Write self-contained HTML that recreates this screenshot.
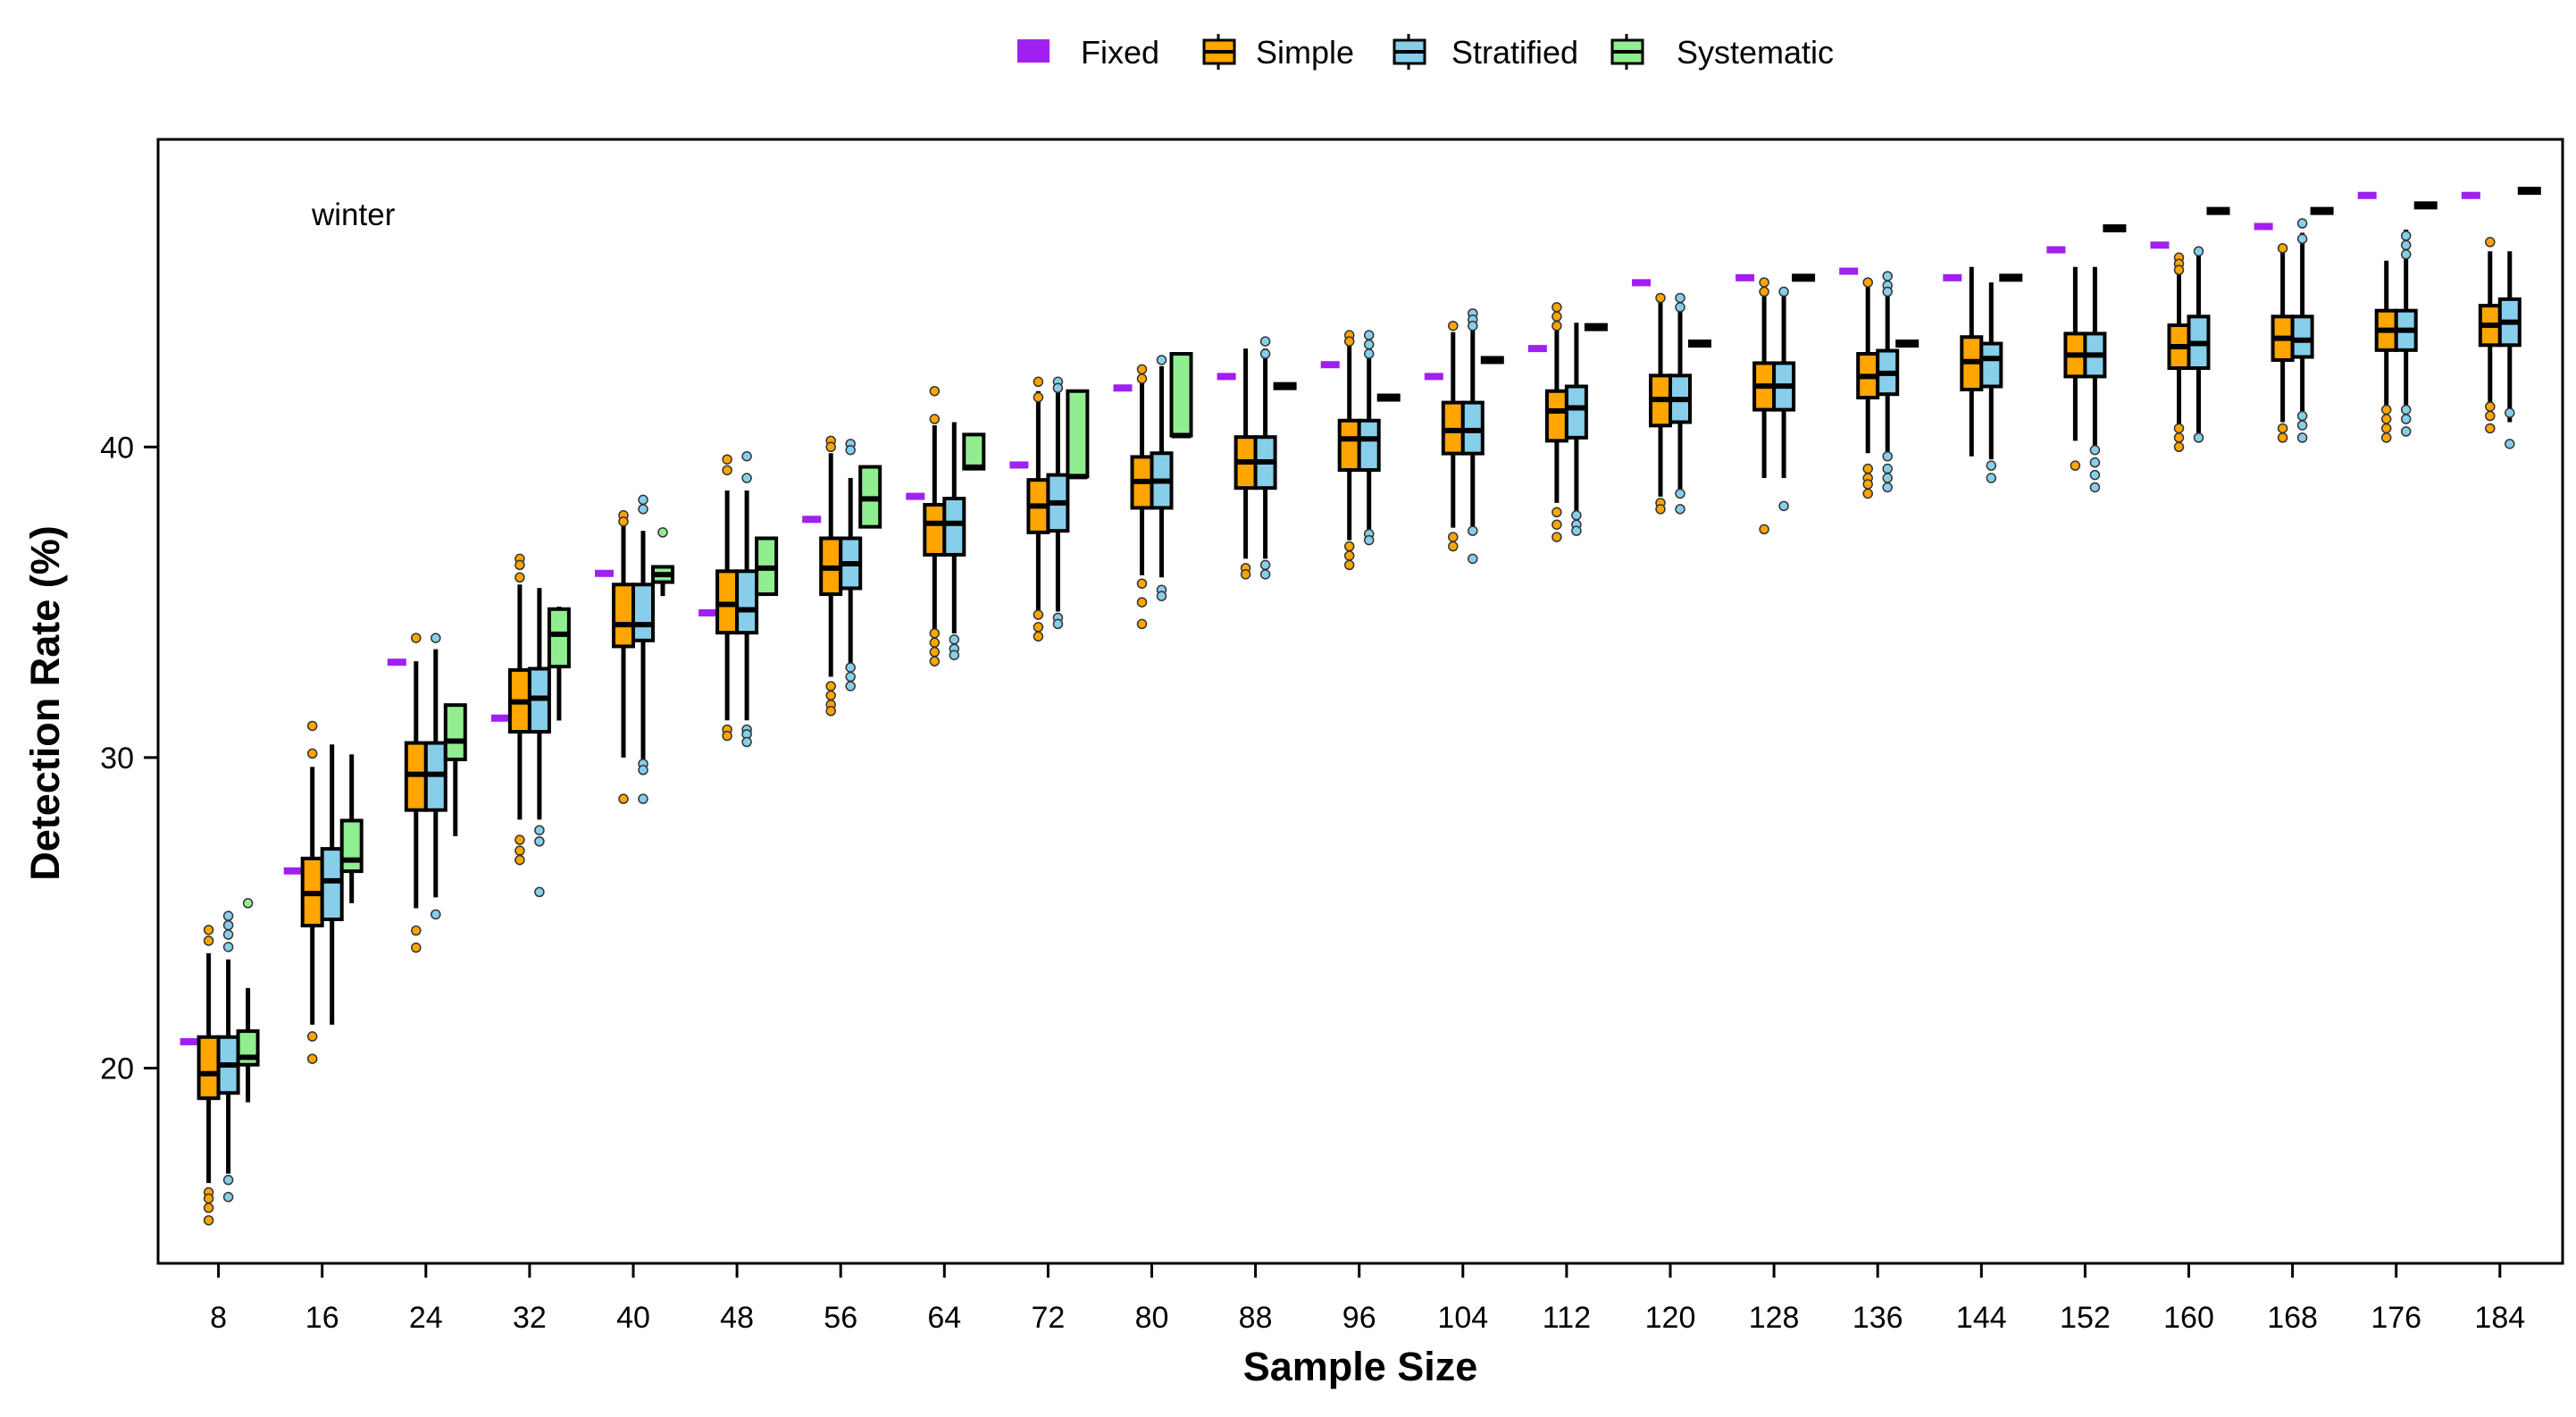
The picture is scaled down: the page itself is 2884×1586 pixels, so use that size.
<!DOCTYPE html>
<html><head><meta charset="utf-8"><style>
html,body{margin:0;padding:0;background:#fff;}
svg{display:block;font-family:"Liberation Sans",Arial,sans-serif;}
</style></head><body>
<svg id="chart" width="2884" height="1586" viewBox="0 0 2884 1586" xmlns="http://www.w3.org/2000/svg">
<g id="legend"></g>
<rect x="177" y="156" width="2692" height="1258" fill="none" stroke="#000" stroke-width="3"/>
<text x="349" y="252" font-size="35">winter</text>
<g id="yaxis"></g>
<g id="xaxis"></g>
<g id="marks"></g>
<text x="1523" y="1545" font-size="45" font-weight="bold" text-anchor="middle">Sample Size</text>
<text transform="translate(66,787) rotate(-90)" font-size="45" font-weight="bold" text-anchor="middle">Detection Rate (%)</text>
</svg>
<script>
const sizes = [8,16,24,32,40,48,56,64,72,80,88,96,104,112,120,128,136,144,152,160,168,176,184];
const yTicks = [20,30,40];
const fixedVals = [20.85,26.35,33.07,31.27,35.93,34.66,37.67,38.41,39.42,41.9,42.27,42.65,42.27,43.17,45.29,45.45,45.66,45.45,46.35,46.5,47.1,48.1,48.1];
// [lo, q1, med, q3, hi]
const simpleStats = [
[16.3,19.03,19.82,21.0,23.7],[21.4,24.59,25.62,26.75,29.7],[25.15,28.31,29.46,30.47,33.1],[28.0,30.83,31.79,32.82,35.57],
[30.0,33.58,34.28,35.57,37.5],[31.2,34.02,34.93,36.0,38.6],[32.6,35.26,36.1,37.06,39.8],[34.1,36.53,37.54,38.14,40.7],
[34.7,37.25,38.1,38.94,41.8],[35.87,38.04,38.89,39.68,42.1],[36.4,38.68,39.52,40.32,43.17],[37.0,39.26,40.26,40.85,43.6],
[37.4,39.79,40.53,41.43,43.7],[38.2,40.2,41.16,41.8,43.9],[38.4,40.69,41.53,42.3,44.7],[39.0,41.2,41.96,42.7,45.0],
[39.8,41.59,42.27,43.0,45.2],[39.7,41.85,42.75,43.54,45.8],[40.2,42.27,42.96,43.65,45.8],[40.6,42.54,43.23,43.92,46.1],
[40.8,42.8,43.5,44.2,46.3],[41.2,43.12,43.76,44.39,46.0],[41.4,43.28,43.92,44.55,46.3]];
const simpleOut = [[24.45,24.1,16.0,15.8,15.5,15.1],[31.02,30.13,21.02,20.3],[33.85,24.43,23.88],[36.4,36.2,35.8,27.35,27.0,26.7],
[37.8,37.6,28.67],[39.6,39.25,30.9,30.7],[40.2,40.0,32.3,32.0,31.7,31.5],[41.8,40.9,34.0,33.7,33.4,33.1],
[42.1,41.6,34.6,34.2,33.9],[42.5,42.2,35.6,35.0,34.3],[36.1,35.9],[43.6,43.4,36.8,36.5,36.2],
[43.9,37.1,36.8],[44.5,44.2,43.9,37.9,37.5,37.1],[44.8,38.2,38.0],[45.3,45.0,37.35],
[45.3,39.3,39.0,38.8,38.5],[],[39.4],[46.1,45.9,45.7,40.6,40.3,40.0],[46.4,40.6,40.3],[41.2,40.9,40.6,40.3],[46.6,41.3,41.0,40.6]];
const stratStats = [
[16.6,19.2,20.1,21.0,23.5],[21.4,24.79,26.03,27.06,30.42],[25.5,28.31,29.46,30.47,33.49],[28.0,30.83,31.91,32.86,35.46],
[29.9,33.77,34.28,35.57,37.3],[31.2,34.02,34.76,36.0,38.6],[32.9,35.45,36.24,37.06,39.0],[34.0,36.53,37.54,38.34,40.8],
[34.7,37.3,38.2,39.1,41.9],[35.8,38.04,38.9,39.8,42.6],[36.4,38.68,39.52,40.32,43.17],[37.2,39.26,40.26,40.85,43.5],
[37.2,39.79,40.53,41.43,43.9],[37.8,40.3,41.26,41.95,44.0],[38.5,40.8,41.53,42.3,44.7],[39.0,41.2,41.96,42.7,45.0],
[39.8,41.7,42.37,43.1,45.5],[39.6,41.95,42.85,43.33,45.3],[39.8,42.27,42.96,43.65,45.8],[40.3,42.54,43.33,44.2,46.3],
[40.9,42.9,43.44,44.2,46.9],[41.2,43.12,43.76,44.39,47.0],[40.8,43.28,44.02,44.76,46.3]];
const stratOut = [[24.9,24.6,24.3,23.9,16.4,15.85],[],[33.85,24.95],[27.66,27.3,25.67],
[38.3,38.0,29.8,29.6,28.67],[39.7,39.0,30.9,30.75,30.5],[40.1,39.9,32.9,32.6,32.3],[33.8,33.5,33.3],
[42.1,41.9,34.5,34.3],[42.8,35.4,35.2],[43.4,43.0,36.2,35.9],[43.6,43.3,43.0,37.2,37.0],
[44.3,44.1,43.9,37.3,36.4],[37.8,37.5,37.3],[44.8,44.5,38.5,38.0],[45.0,38.1],
[45.5,45.2,45.0,39.7,39.3,39.0,38.7],[39.4,39.0],[39.9,39.5,39.1,38.7],[46.3,40.3],[47.2,46.7,41.0,40.7,40.3],[46.8,46.5,46.2,41.2,40.9,40.5],[41.1,40.1]];
const systStats = [
[18.9,20.11,20.35,21.19,22.58],[25.31,26.34,26.7,27.97,30.1],[27.47,29.94,30.53,31.69,31.69],[31.19,32.93,33.97,34.78,34.86],
[35.2,35.65,35.89,36.14,36.14],[35.26,35.26,36.1,37.06,37.06],[37.43,37.43,38.33,39.36,39.36],[39.3,39.3,39.35,40.4,40.4],
[39.05,39.05,39.05,41.8,41.8],[40.37,40.37,40.37,43.0,43.0],[41.96,41.96,41.96,41.96,41.96],[41.59,41.59,41.59,41.59,41.59],
[42.8,42.8,42.8,42.8,42.8],[43.86,43.86,43.86,43.86,43.86],[43.33,43.33,43.33,43.33,43.33],[45.45,45.45,45.45,45.45,45.45],
[43.33,43.33,43.33,43.33,43.33],[45.45,45.45,45.45,45.45,45.45],[47.04,47.04,47.04,47.04,47.04],[47.6,47.6,47.6,47.6,47.6],
[47.6,47.6,47.6,47.6,47.6],[47.78,47.78,47.78,47.78,47.78],[48.25,48.25,48.25,48.25,48.25]];
const systOut = [[25.31],[],[],[],[37.25],[],[],[],[],[],[],[],[],[],[],[],[],[],[],[],[],[],[]];

const NS = "http://www.w3.org/2000/svg";
function yScale(v){ return 1195.5 - (v-20)*34.76; }
function xScale(i){ return 244.6 + i*116.1; }
function mk(tag, attrs, parent){ const e=document.createElementNS(NS,tag); for(const k in attrs) e.setAttribute(k,attrs[k]); parent.appendChild(e); return e; }

const yaxis=document.getElementById('yaxis');
yTicks.forEach(t=>{
  const l=mk('line',{x1:161,x2:177,y1:yScale(t),y2:yScale(t),stroke:'#000','stroke-width':3},yaxis);
  
  
  const tx=mk('text',{x:150,y:yScale(t)+12,'font-size':34,'text-anchor':'end'},yaxis);
  tx.textContent=t;
  
  
});
const xaxis=document.getElementById('xaxis');
sizes.forEach((s,i)=>{
  const l=mk('line',{x1:xScale(i),x2:xScale(i),y1:1414,y2:1430,stroke:'#000','stroke-width':3},xaxis);
  
  
  const tx=mk('text',{x:xScale(i),y:1486,'font-size':34,'text-anchor':'middle'},xaxis);
  tx.textContent=s;
  
  
});

const marks=document.getElementById('marks');
function drawBox(cx, st, outs, fill, name){
  const g=mk('g',{},marks);
  
  
  const w=22;
  const [lo,q1,md,q3,hi]=st;
  mk('line',{x1:cx,x2:cx,y1:yScale(hi),y2:yScale(q3),stroke:'#000','stroke-width':5},g);
  mk('line',{x1:cx,x2:cx,y1:yScale(q1),y2:yScale(lo),stroke:'#000','stroke-width':5},g);
  const hgt=yScale(q1)-yScale(q3);
  if(hgt<1){
    mk('rect',{x:cx-w/2-2,y:yScale(md)-4.5,width:w+4,height:9,fill:'#000'},g);
  } else {
    mk('rect',{x:cx-w/2,y:yScale(q3),width:w,height:hgt,fill:fill,stroke:'#000','stroke-width':4},g);
    mk('line',{x1:cx-w/2,x2:cx+w/2,y1:yScale(md),y2:yScale(md),stroke:'#000','stroke-width':6},g);
  }
  outs.forEach(o=>{
    mk('circle',{cx:cx,cy:yScale(o),r:5,fill:fill,stroke:'#333','stroke-width':1.5},g);
  });
}
sizes.forEach((s,i)=>{
  const c=xScale(i);
  const f=mk('rect',{x:c-43,y:yScale(fixedVals[i])-4,width:21,height:8,fill:'#A020F0'},marks);
  
  
  drawBox(c-11, simpleStats[i], simpleOut[i], '#FFA500', 'simple-box');
  drawBox(c+11, stratStats[i], stratOut[i], '#87CEEB', 'stratified-box');
  drawBox(c+33, systStats[i], systOut[i], '#90EE90', 'systematic-box');
});

// legend
const leg=document.getElementById('legend');
const items=[['Fixed','#A020F0',1150,1210],['Simple','#FFA500',1357,1406],['Stratified','#87CEEB',1570,1625],['Systematic','#90EE90',1814,1877]];
items.forEach(([lab,col,ix,tx])=>{
  const g=mk('g',{},leg);
  
  
  if(lab==='Fixed'){
    mk('rect',{x:ix-11,y:44,width:36,height:26,fill:col},g);
  } else {
    mk('line',{x1:ix+7,x2:ix+7,y1:38,y2:78,stroke:'#000','stroke-width':3},g);
    mk('rect',{x:ix-9,y:45,width:34,height:26,fill:col,stroke:'#000','stroke-width':3},g);
    mk('line',{x1:ix-9,x2:ix+25,y1:58,y2:58,stroke:'#000','stroke-width':4},g);
  }
  const t=mk('text',{x:tx,y:71,'font-size':36},g);
  t.textContent=lab;
});
</script>
</body></html>
